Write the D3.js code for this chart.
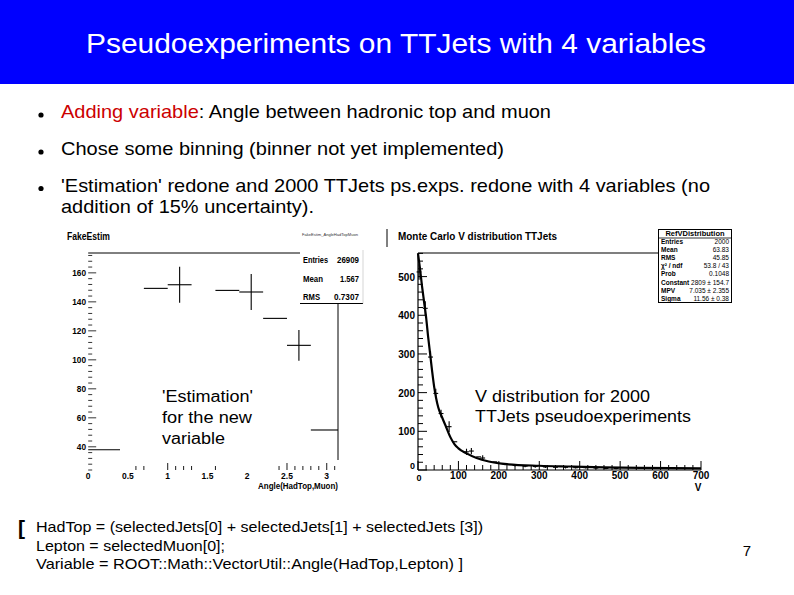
<!DOCTYPE html>
<html><head><meta charset="utf-8">
<script src="https://cdn.jsdelivr.net/npm/d3@7"></script>
<style>html,body{margin:0;padding:0;background:#fff;overflow:hidden}</style>
</head><body><svg id="s" width="794" height="595"></svg>
<script>
// ---------- slide text ----------
const slideTitle = "Pseudoexperiments on TTJets with 4 variables";
const bulletLines = [
  [["Adding variable", "#cc0000"], [": Angle between hadronic top and muon", "#000"]],
  [["Chose some binning (binner not yet implemented)", "#000"]],
  [["'Estimation' redone and 2000 TTJets ps.exps. redone with 4 variables (no", "#000"]],
  [["addition of 15% uncertainty).", "#000"]]
];
const footLines = [
  "HadTop = (selectedJets[0] + selectedJets[1] + selectedJets [3])",
  "Lepton =  selectedMuon[0];",
  "Variable = ROOT::Math::VectorUtil::Angle(HadTop,Lepton)  ]"
];
const pageNumber = "7";

// ---------- left plot: FakeEstim ----------
const leftTitle = "FakeEstim";
const leftXLabel = "Angle(HadTop,Muon)";
const leftBinLow  = [0, 0.7, 1.0, 1.6, 1.9, 2.2, 2.5, 2.8];
const leftBinHigh = [0.4, 1.0, 1.3, 1.9, 2.2, 2.5, 2.8, 3.1416];
const leftValues  = [38, 149.3, 151.8, 147.9, 146.8, 128.6, 110, 51.6];
const leftErrors  = [0, 0, 12.4, 0, 12.4, 0, 10.6, 0];
const leftYTicks = [40, 60, 80, 100, 120, 140, 160];
const leftXTicks = [0, 0.5, 1, 1.5, 2, 2.5, 3];
const leftXTickMarks = [0.6, 0.7, 1.0, 1.1, 1.2, 1.3, 1.6, 2.4, 2.5, 2.6, 2.7, 2.8, 2.9, 3.0, 3.1];
const leftStatsNames = ["Entries", "Mean", "RMS"];
const leftStatsValues = ["26909", "1.567", "0.7307"];
const leftNote = ["'Estimation'", "for the new", "variable"];

// ---------- right plot: V distribution ----------
const rightTitle = "Monte Carlo V distribution TTJets";
const rightXLabel = "V";
const vCenters = [2.5, 18, 31, 44, 57, 77, 91, 120, 132, 150, 160, 190, 215, 240, 265, 290, 315, 340, 365, 390, 415, 440, 465, 490];
const vCounts  = [512, 418, 292, 198, 146, 112, 73, 47, 49, 34, 31, 21, 15, 12, 10, 9, 8, 7, 7, 6, 6, 5, 4, 4];
const vErrors  = [20, 18, 15, 12, 10, 14, 0, 8, 8, 0, 7, 0, 3, 3, 3, 3, 3, 3, 3, 2, 2, 2, 2, 2];
const vBinWidth = 12;
const fitX = [0, 5, 10, 15, 20, 25, 30, 35, 40, 45, 50, 60, 70, 80, 90, 100, 120, 145, 175, 220, 300, 380, 460, 550, 700];
const fitY = [560, 520, 475, 435, 395, 345, 300, 255, 215, 185, 162, 135, 110, 85, 67, 56, 43, 31, 22, 15, 11, 9, 7, 5.5, 4];
const rightYTicks = [0, 100, 200, 300, 400, 500];
const rightXTicks = [0, 100, 200, 300, 400, 500, 600, 700];
const rightStatsTitle = "RefVDistribution";
const rightStatsNames = ["Entries", "Mean", "RMS", "\u03c7\u00b2 / ndf", "Prob", "Constant", "MPV", "Sigma"];
const rightStatsValues = ["2000", "63.83", "45.85", "53.8 / 43", "0.1048", "2809 \u00b1 154.7", "7.035 \u00b1 2.355", "11.56 \u00b1 0.38"];
const rightNote = ["V distribution for 2000", "TTJets pseudoexperiments"];

// ---------- drawing ----------
const svg = d3.select("#s");
const SANS = "'Liberation Sans', Arial, sans-serif";
const ROOTF = "'Liberation Sans Narrow', 'Liberation Sans', Arial, sans-serif";

function fit(sel, w) { sel.attr("textLength", w).attr("lengthAdjust", "spacingAndGlyphs"); return sel; }

// header
svg.append("rect").attr("x", 0).attr("y", 0).attr("width", 794).attr("height", 84).attr("fill", "#0000ff");
fit(svg.append("text").attr("x", 396).attr("y", 53).attr("text-anchor", "middle")
  .attr("font-family", SANS).attr("font-size", 27).attr("fill", "#fff").text(slideTitle), 620);

// bullets
const bulletY = [118, 155, 191.5, 213];
const bulletW = [490, 443, 649, 253];
const bulletDot = [true, true, true, false];
bulletLines.forEach((parts, i) => {
  if (bulletDot[i]) svg.append("circle").attr("cx", 41).attr("cy", bulletY[i] - 3).attr("r", 2.6).attr("fill", "#000");
  const t = svg.append("text").attr("x", 61).attr("y", bulletY[i]).attr("font-family", SANS).attr("font-size", 19);
  parts.forEach(p => t.append("tspan").attr("fill", p[1]).text(p[0]));
  fit(t, bulletW[i]);
});

// footer
svg.append("text").attr("x", 18).attr("y", 535).attr("font-family", SANS).attr("font-size", 21).attr("font-weight", "bold").text("[");
const footY = [532, 551, 569];
const footW = [447, 189, 427];
footLines.forEach((l, i) => {
  fit(svg.append("text").attr("x", 36).attr("y", footY[i]).attr("font-family", SANS).attr("font-size", 15).text(l), footW[i]);
});
svg.append("text").attr("x", 747).attr("y", 556).attr("font-family", SANS).attr("font-size", 15).attr("text-anchor", "middle").text(pageNumber);

// small border mark of right image
svg.append("line").attr("x1", 387).attr("x2", 387).attr("y1", 229).attr("y2", 247).attr("stroke", "#000").attr("stroke-width", 1);

// ===== left plot =====
const xL = d3.scaleLinear().domain([0, Math.PI]).range([88.2, 338]);
const yL = d3.scaleLinear().domain([24, 173.7]).range([470, 253]);
const gL = svg.append("g");
fit(gL.append("text").attr("x", 67).attr("y", 240).attr("font-family", ROOTF).attr("font-size", 11).attr("font-weight", "bold").text(leftTitle), 43);
// frame (top and right)
gL.append("line").attr("x1", xL(0)).attr("x2", xL(Math.PI)).attr("y1", yL(173.7)).attr("y2", yL(173.7)).attr("stroke", "#000");
gL.append("line").attr("x1", xL(Math.PI)).attr("x2", xL(Math.PI)).attr("y1", yL(173.7)).attr("y2", 460).attr("stroke", "#000");
// y ticks
d3.range(24, 174, 4).forEach(v => {
  const major = v % 20 === 0;
  gL.append("line").attr("x1", xL(0)).attr("x2", xL(0) + (major ? 8 : 4)).attr("y1", yL(v)).attr("y2", yL(v)).attr("stroke", "#000").attr("stroke-width", 0.8);
});
leftYTicks.forEach(v => {
  fit(gL.append("text").attr("x", 86).attr("y", yL(v) + 3).attr("text-anchor", "end").attr("font-family", ROOTF).attr("font-size", 9).attr("font-weight", "bold").text(v), String(v).length * 4.6);
});
// x ticks
leftXTickMarks.forEach(v => {
  const major = Math.abs(v * 2 - Math.round(v * 2)) < 1e-6;
  gL.append("line").attr("x1", xL(v)).attr("x2", xL(v)).attr("y1", 470).attr("y2", 470 - (major ? 7 : 4)).attr("stroke", "#000").attr("stroke-width", 0.9);
});
leftXTicks.forEach(v => {
  gL.append("text").attr("x", xL(v)).attr("y", 479).attr("text-anchor", "middle").attr("font-family", ROOTF).attr("font-size", 8.5).attr("font-weight", "bold").text(v);
});
fit(gL.append("text").attr("x", 258).attr("y", 489).attr("font-family", ROOTF).attr("font-size", 9).attr("font-weight", "bold").text(leftXLabel), 80);
// histogram bins
leftValues.forEach((v, i) => {
  const lo = leftBinLow[i], hi = leftBinHigh[i];
  gL.append("line").attr("x1", xL(lo)).attr("x2", xL(hi)).attr("y1", yL(v)).attr("y2", yL(v)).attr("stroke", "#000").attr("stroke-width", 1.1);
  if (leftErrors[i] > 0) {
    const xc = xL((lo + hi) / 2);
    gL.append("line").attr("x1", xc).attr("x2", xc).attr("y1", yL(v - leftErrors[i])).attr("y2", yL(v + leftErrors[i])).attr("stroke", "#000").attr("stroke-width", 1.1);
  }
});
// stats box
gL.append("rect").attr("x", 300).attr("y", 228).attr("width", 63).attr("height", 75.5).attr("fill", "#fff");
gL.append("line").attr("x1", 300).attr("x2", 363).attr("y1", 303.5).attr("y2", 303.5).attr("stroke", "#000");
gL.append("line").attr("x1", 363).attr("x2", 363).attr("y1", 250).attr("y2", 303.5).attr("stroke", "#bbb").attr("stroke-width", 0.6);
fit(gL.append("text").attr("x", 302).attr("y", 236).attr("font-family", ROOTF).attr("font-size", 4.2).attr("fill", "#333").text("FakeEstim_AngleHadTopMuon"), 56);
const lsNameW = [25, 20, 17];
const lsValW = [22, 19, 25];
leftStatsNames.forEach((n, i) => {
  const y = 263 + i * 18.5;
  fit(gL.append("text").attr("x", 303).attr("y", y).attr("font-family", ROOTF).attr("font-size", 9.5).attr("font-weight", "bold").text(n), lsNameW[i]);
  fit(gL.append("text").attr("x", 359 - lsValW[i]).attr("y", y).attr("font-family", ROOTF).attr("font-size", 9.5).attr("font-weight", "bold").text(leftStatsValues[i]), lsValW[i]);
});
// annotation
const noteLY = [401.5, 423, 443.5];
const noteLW = [91, 90, 63];
leftNote.forEach((l, i) => {
  fit(gL.append("text").attr("x", 162).attr("y", noteLY[i]).attr("font-family", SANS).attr("font-size", 16).text(l), noteLW[i]);
});

// ===== right plot =====
const xR = d3.scaleLinear().domain([0, 700]).range([418, 701]);
const yR = d3.scaleLinear().domain([0, 561]).range([470, 253]);
const gR = svg.append("g");
fit(gR.append("text").attr("x", 398).attr("y", 239.5).attr("font-family", ROOTF).attr("font-size", 10).attr("font-weight", "bold").text(rightTitle), 159);
// frame
gR.append("line").attr("x1", xR(0)).attr("x2", xR(700)).attr("y1", yR(561)).attr("y2", yR(561)).attr("stroke", "#000").attr("stroke-width", 1.2);
gR.append("line").attr("x1", xR(0)).attr("x2", xR(0)).attr("y1", yR(561)).attr("y2", yR(0)).attr("stroke", "#000").attr("stroke-width", 1.2);
gR.append("line").attr("x1", xR(0)).attr("x2", xR(700)).attr("y1", yR(0)).attr("y2", yR(0)).attr("stroke", "#000").attr("stroke-width", 1.2);
// y ticks
d3.range(0, 561, 20).forEach(v => {
  const major = v % 100 === 0;
  gR.append("line").attr("x1", xR(0)).attr("x2", xR(0) + (major ? 9 : 5)).attr("y1", yR(v)).attr("y2", yR(v)).attr("stroke", "#000").attr("stroke-width", 1);
});
rightYTicks.forEach(v => {
  gR.append("text").attr("x", 415).attr("y", v === 0 ? 469 : yR(v) + 4).attr("text-anchor", "end").attr("font-family", ROOTF).attr("font-size", v === 0 ? 9 : 10).attr("font-weight", "bold").text(v);
});
// x ticks
d3.range(0, 701, 20).forEach(v => {
  const major = v % 100 === 0;
  gR.append("line").attr("x1", xR(v)).attr("x2", xR(v)).attr("y1", yR(0)).attr("y2", yR(0) - (major ? 9 : 5)).attr("stroke", "#000").attr("stroke-width", 1);
});
rightXTicks.forEach(v => {
  gR.append("text").attr("x", v === 0 ? xR(v) + 1 : xR(v)).attr("y", v === 0 ? 481 : 479).attr("text-anchor", "middle").attr("font-family", ROOTF).attr("font-size", v === 0 ? 9 : 10).attr("font-weight", "bold").text(v);
});
gR.append("text").attr("x", 698).attr("y", 491).attr("text-anchor", "middle").attr("font-family", ROOTF).attr("font-size", 10).attr("font-weight", "bold").text(rightXLabel);
// fit curve
const fitPts = fitX.map((x, i) => [x, fitY[i]]);
gR.append("path").attr("d", d3.line().x(d => xR(d[0])).y(d => yR(d[1])).curve(d3.curveMonotoneX)(fitPts))
  .attr("fill", "none").attr("stroke", "#000").attr("stroke-width", 2.2);
// histogram markers
vCenters.forEach((c, i) => {
  const v = vCounts[i];
  gR.append("line").attr("x1", xR(c - vBinWidth / 2)).attr("x2", xR(c + vBinWidth / 2)).attr("y1", yR(v)).attr("y2", yR(v)).attr("stroke", "#000").attr("stroke-width", 1.1);
  if (vErrors[i] > 0) {
    gR.append("line").attr("x1", xR(c)).attr("x2", xR(c)).attr("y1", yR(v - vErrors[i])).attr("y2", yR(v + vErrors[i])).attr("stroke", "#000").attr("stroke-width", 1.1);
  }
});
// stats box
gR.append("rect").attr("x", 658.5).attr("y", 229.5).attr("width", 73).attr("height", 73).attr("fill", "#fff").attr("stroke", "#000").attr("stroke-width", 1);
gR.append("line").attr("x1", 658.5).attr("x2", 731.5).attr("y1", 238).attr("y2", 238).attr("stroke", "#000").attr("stroke-width", 0.8);
gR.append("text").attr("x", 695).attr("y", 236).attr("text-anchor", "middle").attr("font-family", ROOTF).attr("font-size", 7.5).attr("font-weight", "bold").text(rightStatsTitle);
rightStatsNames.forEach((n, i) => {
  const y = 244 + i * 8.1;
  gR.append("text").attr("x", 661).attr("y", y).attr("font-family", ROOTF).attr("font-size", 6.5).attr("font-weight", "bold").text(n);
  gR.append("text").attr("x", 729).attr("y", y).attr("text-anchor", "end").attr("font-family", ROOTF).attr("font-size", 6.5).text(rightStatsValues[i]);
});
// annotation
const noteRY = [401.5, 421.5];
const noteRW = [175, 216];
rightNote.forEach((l, i) => {
  fit(gR.append("text").attr("x", 475).attr("y", noteRY[i]).attr("font-family", SANS).attr("font-size", 16.5).text(l), noteRW[i]);
});
</script>
</body></html>
